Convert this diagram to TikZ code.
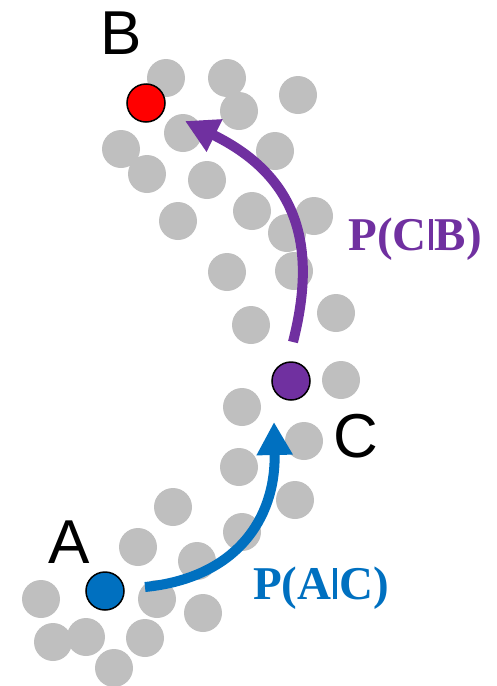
\documentclass[tikz,border=0pt]{standalone}
\usepackage{fontspec}
\setmainfont{Liberation Serif}
\newfontfamily\labelfont{Liberation Sans}
\usetikzlibrary{positioning, arrows.meta}
\definecolor{blobgray}{RGB}{191,191,191}
\definecolor{mspurple}{RGB}{112,48,160}
\definecolor{msblue}{RGB}{0,112,192}
\tikzstyle{blob}=[circle, minimum size=38pt, inner sep=0pt, fill=blobgray]
\tikzstyle{statenode}=[circle, minimum size=38pt, inner sep=0pt, draw=black, line width=1.5pt]
\tikzstyle{letter}=[inner sep=0pt, font=\labelfont\fontsize{62}{62}\selectfont]
\tikzstyle{problabel}=[inner sep=0pt, font=\bfseries\fontsize{47}{47}\selectfont]
\tikzstyle{jumparrow}=[line width=10pt, -{Triangle[length=33pt, width=34pt]}]
% short bar for the conditional
\newcommand{\condbar}{\hspace{2pt}\rule{4pt}{0.66em}\hspace{2pt}}

\begin{document}
\begin{tikzpicture}[x=1pt, y=-1pt]
            \useasboundingbox (0,0) rectangle (496,686);
            %cloud of samples around the path A -> C -> B
            \foreach \x/\y [count=\i] in {166/78, 227/78, 298/95, 239/111, 183/133,
                121/149, 275/151, 147/174, 207/180, 178/221, 252/211, 314/216,
                287/233, 227/272, 294/271, 336/313, 251/325, 341/380, 242/407,
                304/441, 239/467, 295/500, 173/507, 242/532, 138/547, 197/561,
                41/599, 157/599, 203/613, 53/642, 86/637, 145/638, 114/668}{
                \node[blob](s\i) at (\x,\y){};
            }
            \node[statenode, fill=red](B) at (146,103){};
            \node[statenode, fill=mspurple](C) at (291,381){};
            \node[statenode, fill=msblue](A) at (105,591){};
            \node[letter](labB) at (121,33){B};
            \node[letter](labC) at (356,436){C};
            \node[letter](labA) at (69,542){A};
            \coordinate (cbstart) at (293,342);
            \coordinate (cbend) at (185,121);
            \coordinate (acstart) at (145,587);
            \coordinate (acend) at (274,422);
            \draw[jumparrow, mspurple] (cbstart) .. controls (315,255) and (305,180) .. (cbend);
            \draw[jumparrow, msblue] (acstart) .. controls (235,578) and (276,520) .. (acend);
            \node[problabel, mspurple](pcb) at (415,239){P(C\condbar B)};
            \node[problabel, msblue](pac) at (321,588){P(A\condbar C)};
        \end{tikzpicture}
\end{document}
